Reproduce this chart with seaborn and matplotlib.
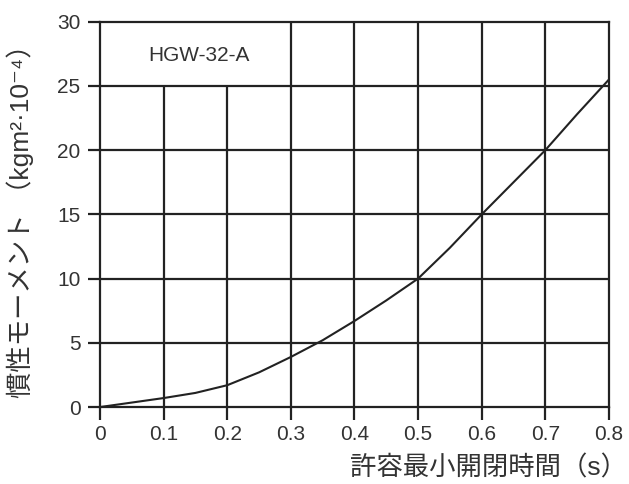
import numpy as np
import pandas as pd
import seaborn as sns
import matplotlib.pyplot as plt

# values
time_s = [0.0, 0.05, 0.1, 0.15, 0.2, 0.25, 0.3, 0.35, 0.4, 0.45, 0.5, 0.55, 0.6, 0.65, 0.7, 0.75, 0.8]
inertia = [0.0, 0.35, 0.7, 1.1, 1.7, 2.7, 3.9, 5.2, 6.7, 8.3, 10.0, 12.4, 15.0, 17.5, 20.0, 22.8, 25.5]
x_ticks = [0, 0.1, 0.2, 0.3, 0.4, 0.5, 0.6, 0.7, 0.8]
x_ticklabels = ['0', '0.1', '0.2', '0.3', '0.4', '0.5', '0.6', '0.7', '0.8']
y_ticks = [0, 5, 10, 15, 20, 25, 30]
model = 'HGW-32-A'

df = pd.DataFrame({'t': time_s, 'J': inertia})

sns.set_style('white')
plt.rcParams['font.family'] = ['Liberation Sans', 'Noto Sans CJK JP', 'DejaVu Sans']
ink = '#222222'
txt = '#333333'

fig = plt.figure(figsize=(6.29, 4.84), dpi=100)
ax = fig.add_axes([0.159, 0.159, 0.809, 0.796])

# grid: the top-left cell is left open for the model name
for xv in x_ticks[1:-1]:
    top = 25 if xv < 0.25 else 30
    ax.vlines(xv, 0, top, color=ink, lw=1.6, zorder=1)
for yv in y_ticks[1:-1]:
    ax.hlines(yv, 0, 0.8, color=ink, lw=1.6, zorder=1)

sns.lineplot(data=df, x='t', y='J', color=ink, lw=1.5, ax=ax, zorder=3)

ax.set_xlim(0, 0.8)
ax.set_ylim(0, 30)
ax.set_xticks(x_ticks)
ax.set_xticklabels(x_ticklabels)
ax.set_yticks(y_ticks)
for s in ax.spines.values():
    s.set_color(ink)
    s.set_linewidth(1.6)
ax.tick_params(axis='both', colors=ink, labelsize=15, width=1.6, length=9, direction='out',
               left=True, bottom=True)
ax.tick_params(axis='y', pad=5)
ax.tick_params(axis='x', pad=4)
for lab in ax.get_xticklabels() + ax.get_yticklabels():
    lab.set_color(txt)

ax.text(0.156, 27.4, model, ha='center', va='center', fontsize=15, color=txt)

ax.set_xlabel('許容最小開閉時間（s）', fontsize=19, color=txt, ha='right')
ax.xaxis.set_label_coords(1.036, -0.125)
ax.set_ylabel('慣性モーメント （kgm²·10⁻⁴）', fontsize=19, color=txt)
ax.yaxis.set_label_coords(-0.13, 0.5)

fig.savefig('out.png', dpi=100)
